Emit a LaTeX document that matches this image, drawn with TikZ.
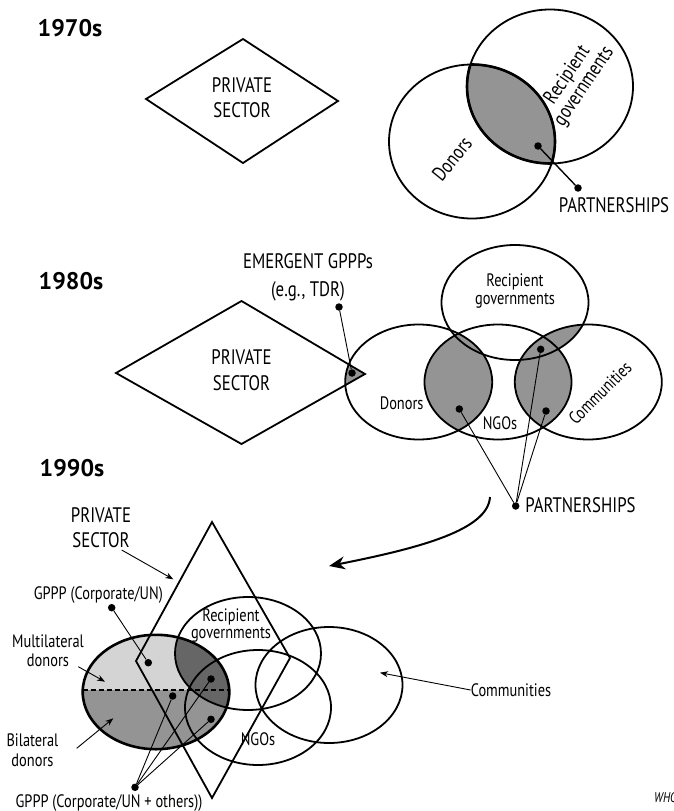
\documentclass[tikz,border=0pt]{standalone}
\usepackage{fontspec}
\setmainfont{PT Sans}[FakeStretch=0.8]
\newfontfamily\yearfont{PT Sans}
\usetikzlibrary{arrows.meta}
\begin{document}
\begin{tikzpicture}[x=1pt,y=-1pt,
  ln/.style={line width=1.8pt},
  lens/.style={line width=2.6pt},
  thinln/.style={line width=0.9pt},
  dot/.style={circle,fill=black,inner sep=0pt,minimum size=7.5pt},
  big/.style={font=\fontsize{21}{25}\selectfont,align=center,inner sep=0pt},
  sml/.style={font=\fontsize{18}{18}\selectfont,align=center,inner sep=0pt},
  year/.style={font=\yearfont\bfseries\fontsize{24}{26}\selectfont,inner sep=0pt},
  sarrow/.style={thinln,-{Stealth[length=8pt,width=6pt]}}
]
\useasboundingbox (0,0) rectangle (674,811);
\fill[white] (0,0) rectangle (674,811);

% ===================== 1970s =====================
\node[year] (y70) at (70,28.5) {1970s};
\draw[ln] (146,99) -- (243,39) -- (338,101) -- (243,163) -- cycle;
\node[big] (ps70) at (242,98) {PRIVATE\\SECTOR};
\begin{scope}
  \clip (472,141.5) ellipse [x radius=83pt, y radius=77pt];
  \fill[black!42] (550,86.5) ellipse [x radius=83pt, y radius=77pt];
  \draw[lens] (550,86.5) ellipse [x radius=83pt, y radius=77pt];
\end{scope}
\begin{scope}
  \clip (550,86.5) ellipse [x radius=83pt, y radius=77pt];
  \draw[lens] (472,141.5) ellipse [x radius=83pt, y radius=77pt];
\end{scope}
\draw[ln] (472,141.5) ellipse [x radius=83pt, y radius=77pt];
\draw[ln] (550,86.5) ellipse [x radius=83pt, y radius=77pt];
\node[sml,rotate=51,font=\fontsize{20.5}{20}\selectfont] (don70) at (452,159) {Donors};
\node[sml,rotate=56,font=\fontsize{20.5}{20}\selectfont] (rec70) at (576,81) {Recipient\\governments};
\node[dot] (d70a) at (538,146) {};
\node[dot] (d70b) at (578,188) {};
\draw[line width=1.4pt] (d70a) -- (d70b);
\node[big] (pa70) at (614,205) {PARTNERSHIPS};

% ===================== 1980s =====================
\node[year] (y80) at (71,281.5) {1980s};
\begin{scope}
  \clip (116,373) -- (241.5,301) -- (365,374) -- (241.5,444) -- cycle;
  \fill[black!42] (418.7,382) ellipse [x radius=73.5pt, y radius=57.5pt];
\end{scope}
\draw[ln] (116,373) -- (241.5,301) -- (365,374) -- (241.5,444) -- cycle;
\node[big,font=\fontsize{21}{26}\selectfont] (ps80) at (241.5,370) {PRIVATE\\SECTOR};
\node[big,font=\fontsize{21}{28}\selectfont] (em80) at (308,277) {EMERGENT GPPPs\\(e.g., TDR)};
% shading
\begin{scope}
  \clip (418.7,382) ellipse [x radius=73.5pt, y radius=57.5pt];
  \fill[black!42] (498,382) ellipse [x radius=73.5pt, y radius=57.5pt];
\end{scope}
\begin{scope}
  \clip (498,382) ellipse [x radius=73.5pt, y radius=57.5pt];
  \fill[black!42] (588.3,382) ellipse [x radius=73.5pt, y radius=57.5pt];
\end{scope}
\begin{scope}
  \clip (515,302.5) ellipse [x radius=73.5pt, y radius=57.5pt];
  \fill[black!42] (588.3,382) ellipse [x radius=73.5pt, y radius=57.5pt];
\end{scope}
\draw[ln] (418.7,382) ellipse [x radius=73.5pt, y radius=57.5pt];
\draw[ln] (498,382) ellipse [x radius=73.5pt, y radius=57.5pt];
\draw[ln] (588.3,382) ellipse [x radius=73.5pt, y radius=57.5pt];
\draw[ln] (515,302.5) ellipse [x radius=73.5pt, y radius=57.5pt];
\node[sml] (rec80) at (515,291) {Recipient\\governments};
\node[sml] (don80) at (401.7,403.3) {Donors};
\node[sml] (ngo80) at (500,422.7) {NGOs};
\node[sml,rotate=45] (com80) at (600,393) {Communities};
\node[dot] (e80a) at (339,307) {};
\node[dot] (e80b) at (352,373) {};
\draw[thinln] (e80a) -- (e80b);
\node[dot] (p80a) at (459.3,409) {};
\node[dot] (p80b) at (540.7,349.3) {};
\node[dot] (p80c) at (546,411) {};
\node[dot] (p80h) at (515.7,506) {};
\draw[thinln] (p80a) -- (p80h);
\draw[thinln] (p80b) -- (p80h);
\draw[thinln] (p80c) -- (p80h);
\node[big] (pa80) at (580.5,505.5) {PARTNERSHIPS};
\coordinate (arrS) at (490,497);
\coordinate (arrE) at (329,566);
\draw[line width=2pt,-{Stealth[length=16pt,width=13pt]}] (arrS) .. controls (488,530) and (420,548) .. (arrE);

% ===================== 1990s =====================
\node[year] (y90) at (72,468) {1990s};
\begin{scope}
  \clip (156,692) ellipse [x radius=73.3pt, y radius=57.2pt];
  \fill[black!17] (80,630) rectangle (232,690);
  \fill[black!42] (80,690) rectangle (232,752);
  \fill[black!60] (248,653.5) ellipse [x radius=73pt, y radius=56.5pt];
\end{scope}
\coordinate (dsL) at (82.7,690);
\coordinate (dsR) at (229.3,690);
\draw[line width=2pt,dash pattern=on 5pt off 3pt] (dsL) -- (dsR);
\draw[ln] (248,653.5) ellipse [x radius=73pt, y radius=56.5pt];
\draw[ln] (258,707.5) ellipse [x radius=73pt, y radius=57.5pt];
\draw[ln] (329,685) ellipse [x radius=73.5pt, y radius=58pt];
\draw[lens] (156,692) ellipse [x radius=73.3pt, y radius=57.2pt];
\draw[ln] (212,522) -- (290,658) -- (212,798) -- (136,661) -- cycle;

\node[big] (ps90) at (101,527.5) {PRIVATE\\SECTOR};
\coordinate (ps90s) at (121.7,550);
\coordinate (ps90e) at (173.3,579.3);
\draw[sarrow] (ps90s) -- (ps90e);
\node[sml] (g1t) at (98.3,595) {GPPP (Corporate/UN)};
\node[dot] (g1a) at (111.7,607.7) {};
\node[dot] (g1b) at (148.3,662.7) {};
\draw[thinln] (g1a) -- (g1b);
\node[sml,font=\fontsize{18}{19}\selectfont] (mul) at (48,651) {Multilateral\\donors};
\coordinate (mulS) at (78.3,666.7);
\coordinate (mulE) at (105,681.7);
\draw[sarrow] (mulS) -- (mulE);
\node[sml,font=\fontsize{18}{20}\selectfont] (bil) at (32.5,750.5) {Bilateral\\donors};
\coordinate (bilS) at (76.7,748.3);
\coordinate (bilE) at (113.3,718.3);
\draw[sarrow] (bilS) -- (bilE);
\node[dot] (h1) at (172.7,696) {};
\node[dot] (h2) at (211,679) {};
\node[dot] (h3) at (211,719.3) {};
\node[dot] (hh) at (135,787.3) {};
\draw[thinln] (hh) -- (h1);
\draw[thinln] (hh) -- (h2);
\draw[thinln] (hh) -- (h3);
\node[sml] (g2t) at (109,803) {GPPP (Corporate/UN + others))};
\node[sml,font=\fontsize{18}{16.5}\selectfont] (rec90) at (231,625.5) {Recipient\\governments};
\node[sml] (ngo90) at (258,739) {NGOs};
\node[sml] (com90) at (511,690) {Communities};
\coordinate (comE) at (380,672.7);
\draw[sarrow] (com90.west) -- (comE);
\node[anchor=west,inner sep=0pt,font=\fontsize{14}{14}\selectfont\itshape] (who) at (654,798) {WHO};
\end{tikzpicture}
\end{document}
